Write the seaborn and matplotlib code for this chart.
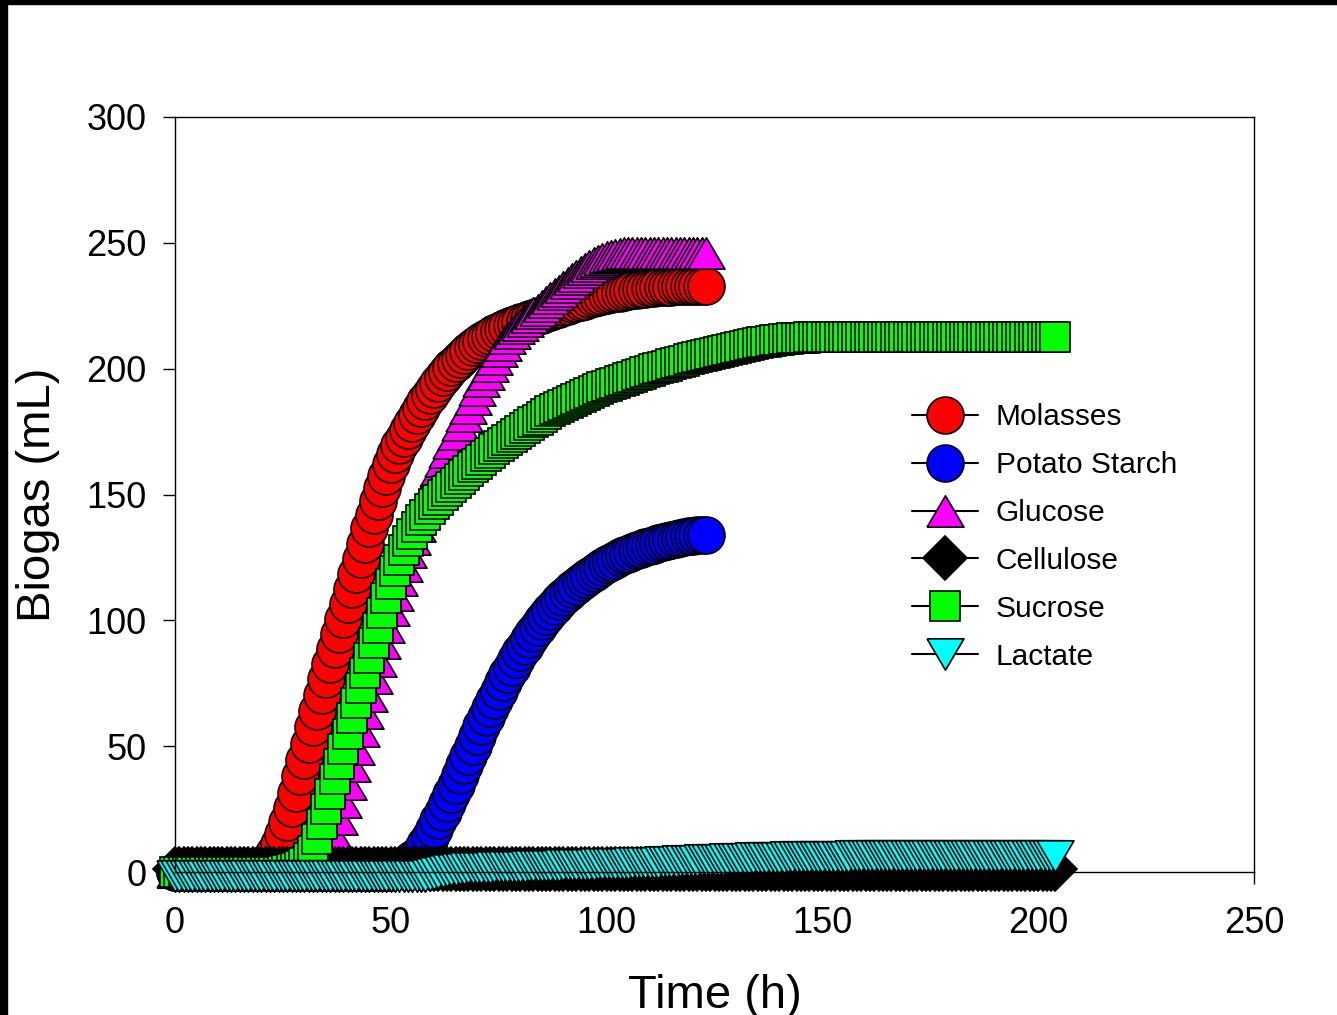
import numpy as np
import pandas as pd
import matplotlib
matplotlib.use("Agg")
import matplotlib.pyplot as plt
from matplotlib.lines import Line2D
from matplotlib.patches import Rectangle
import seaborn as sns

# tiempos de muestreo (cada hora)
hours_short = list(range(0, 124))
hours_long = list(range(0, 205))

molasses = [0.0] * 18 + [
    0.5, 1, 2, 3, 5, 7.5, 11, 15, 20, 25.5,
    31.5, 38, 44.5, 51, 57.5, 64, 70.5, 76.5, 82.5, 88.5,
    94.5, 100.5, 106.5, 112.5, 118.5, 124.5, 130.5, 136.5, 142, 147.5,
    152.5, 157.5, 162, 166, 169.5, 172.5, 175.5, 178.5, 181.5, 184.3,
    187, 189.5, 192, 194.3, 196.5, 198.5, 200.5, 202.3, 204, 205.6,
    207.1, 208.5, 209.8, 211, 212.1, 213.1, 214.1, 215, 215.8, 216.5,
    217.2, 217.9, 218.5, 219.1, 219.7, 220.3, 220.9, 221.5, 222.1, 222.7,
    223.3, 223.9, 224.5, 225, 225.5, 226, 226.5, 227, 227.5, 227.9,
    228.3, 228.7, 229.1, 229.5, 229.9, 230.2, 230.5, 230.8, 231.1, 231.4,
    231.6, 231.8, 232, 232.2, 232.3, 232.4, 232.5, 232.6, 232.7, 232.8,
    232.8, 232.9, 232.9, 233, 233, 233,
]

potato = [0.0] * 51 + [
    0.5, 1, 2, 3.5, 5, 6.5, 8.5, 11, 14, 17,
    20.5, 24, 27.5, 31, 34.5, 38.5, 42.5, 46, 50, 54,
    58, 61.5, 65, 68.5, 72, 75.5, 78.5, 81.5, 84.5, 87.5,
    90, 92.5, 95, 97.5, 99.7, 101.8, 103.8, 105.7, 107.5, 109.2,
    110.8, 112.3, 113.8, 115.2, 116.5, 117.8, 119, 120.1, 121.2, 122.2,
    123.2, 124.1, 125, 125.8, 126.5, 127.2, 127.8, 128.4, 129, 129.6,
    130.1, 130.6, 131.1, 131.6, 132, 132.4, 132.8, 133.1, 133.4, 133.6,
    133.8, 133.9, 134,
]

glucose = [0.0] * 36 + [
    7, 14, 21, 28, 35, 42, 49, 56, 63, 70,
    77, 84, 91, 97.5, 104, 110, 116, 121.5, 127, 132.5,
    137.5, 142.5, 147, 151.5, 155.5, 159.5, 163.5, 167, 170.5, 174,
    177.5, 181, 184.5, 188, 191.5, 195, 198, 201, 204, 207,
    209.5, 212, 214, 216, 217.5, 219, 220.5, 222, 223.5, 225,
    226.5, 228, 229.5, 231, 232.5, 234, 235.5, 237, 238.5, 239.7,
    240.8, 241.8, 242.7, 243.5, 244.2, 244.8, 245.2, 245.5, 245.8, 246,
] + [246.0] * 18

cellulose = [1.0] * 205

sucrose = [0.0] * 25 + [
    0.3, 0.6, 1, 1.5, 2.3, 3.5, 5.5, 8.5, 13, 19,
    25, 31, 37, 43, 49, 55, 61, 67, 73, 79,
    85, 91, 97, 103, 109, 114.5, 119.5, 124, 128, 131.5,
    134.5, 137.2, 139.7, 142, 144.1, 146.1, 148, 149.8, 151.5, 153.1,
    154.7, 156.3, 157.8, 159.3, 160.8, 162.3, 163.8, 165.2, 166.6, 168,
    169.3, 170.6, 171.8, 173, 174.2, 175.4, 176.5, 177.6, 178.7, 179.8,
    180.9, 182, 183, 183.9, 184.8, 185.7, 186.5, 187.3, 188.1, 188.9,
    189.7, 190.5, 191.3, 192, 192.6, 193.2, 193.8, 194.4, 195, 195.6,
    196.2, 196.8, 197.4, 198, 198.6, 199.2, 199.7, 200.2, 200.7, 201.2,
    201.7, 202.2, 202.7, 203.2, 203.7, 204.2, 204.7, 205.1, 205.5, 205.9,
    206.3, 206.7, 207.1, 207.5, 207.9, 208.3, 208.7, 209.1, 209.5, 209.8,
    210.1, 210.4, 210.7, 211, 211.2, 211.4, 211.6, 211.8, 212, 212.1,
    212.2, 212.3, 212.4, 212.5,
] + [212.5] * 56

lactate = [-1.6] * 59 + [
    -1.2, -0.8, -0.4, 0.0, 0.3, 0.6, 0.9, 1.1, 1.3, 1.4, 1.5, 1.6,
    1.65, 1.7, 1.75, 1.8, 1.85, 1.9, 1.95, 2.0, 2.05, 2.1,
    2.15, 2.2, 2.25, 2.3, 2.35, 2.4, 2.45, 2.5, 2.55, 2.6,
    2.65, 2.7, 2.75, 2.8, 2.85, 2.9, 2.95, 3.0, 3.05, 3.1,
    3.15, 3.2, 3.25, 3.3, 3.35, 3.4, 3.45, 3.5, 3.55, 3.6,
    3.65, 3.7, 3.8, 3.9, 4.0, 4.1, 4.2, 4.3, 4.4, 4.5,
    4.55, 4.6, 4.7, 4.75, 4.8, 4.9, 4.95, 5.0, 5.1, 5.15,
    5.2, 5.25, 5.3, 5.4, 5.45, 5.5, 5.55, 5.6, 5.65, 5.7,
    5.75, 5.8, 5.85, 5.9, 5.9, 5.95, 6.0, 6.0, 6.05, 6.05,
    6.1, 6.1, 6.1, 6.15, 6.15, 6.15, 6.2, 6.2, 6.2, 6.2,
] + [6.2] * 44

labels = ["Molasses", "Potato Starch", "Glucose", "Cellulose", "Sucrose", "Lactate"]

# triangulos tipo SigmaPlot (mas anchos que altos)
TRI_UP = [(-1, -0.85), (1, -0.85), (0, 0.85), (-1, -0.85)]
TRI_DOWN = [(-1, 0.85), (1, 0.85), (0, -0.85), (-1, 0.85)]

series = [
    (hours_short, molasses, "o", 26.6, "#FF0000"),
    (hours_short, potato, "o", 26.6, "#0000FF"),
    (hours_short, glucose, TRI_UP, 26.6, "#FF00FF"),
    (hours_long, cellulose, "D", 21.9, "#000000"),
    (hours_long, sucrose, "s", 22.3, "#00FF00"),
    (hours_long, lactate, TRI_DOWN, 26.6, "#00FFFF"),
]

sns.set_style("ticks")
plt.rcParams["font.family"] = ["Liberation Sans", "DejaVu Sans"]
plt.rcParams.update({"text.color": "black", "axes.labelcolor": "black",
                     "xtick.color": "black", "ytick.color": "black",
                     "axes.edgecolor": "black"})

fig = plt.figure(figsize=(13.37, 10.15), dpi=100)
ax = fig.add_axes([175 / 1337, 1 - 872 / 1015, 1079 / 1337, 755 / 1015])

handles = []
for (t, vals, mk, ms, fc), name in zip(series, labels):
    df = pd.DataFrame({"Time": t, "Biogas": vals})
    style = dict(marker=mk, markersize=ms, markerfacecolor=fc,
                 markeredgecolor="black", markeredgewidth=1.2)
    sns.lineplot(data=df, x="Time", y="Biogas", ax=ax, color="black",
                 linewidth=1.0, errorbar=None, legend=False, clip_on=False,
                 **style)
    handles.append(Line2D([], [], color="black", linewidth=1.5, **style))

ax.set_xlim(0, 250)
ax.set_ylim(0, 300)
ax.set_xticks([0, 50, 100, 150, 200, 250])
ax.set_yticks([0, 50, 100, 150, 200, 250, 300])
for s in ax.spines.values():
    s.set_visible(True)
    s.set_linewidth(1.0)
    s.set_color("black")
ax.tick_params(direction="out", length=8.6, width=1.0, labelsize=26,
               colors="black", top=False, right=False)
ax.tick_params(axis="y", pad=12)
ax.tick_params(axis="x", pad=16)

ax.set_xlabel("Time (h)", fontsize=34, color="black")
ax.set_ylabel("Biogas (mL)", fontsize=34, color="black")
ax.xaxis.set_label_coords(0.5, -0.135)
ax.yaxis.set_label_coords(-0.107, 0.5)

ax.legend(handles, labels, loc="upper left", bbox_to_anchor=(0.683, 0.621),
          frameon=False, fontsize=21.5, handlelength=2.2, handletextpad=0.6,
          labelspacing=0.667, borderpad=0, borderaxespad=0, labelcolor="black")

# marco negro de la imagen original (arriba e izquierda)
fig.add_artist(Rectangle((0, 0), 7 / 1337, 1, transform=fig.transFigure,
                         color="black", zorder=10))
fig.add_artist(Rectangle((0, 1 - 4 / 1015), 1, 4 / 1015,
                         transform=fig.transFigure, color="black", zorder=10))

fig.savefig("out.png", dpi=100)
